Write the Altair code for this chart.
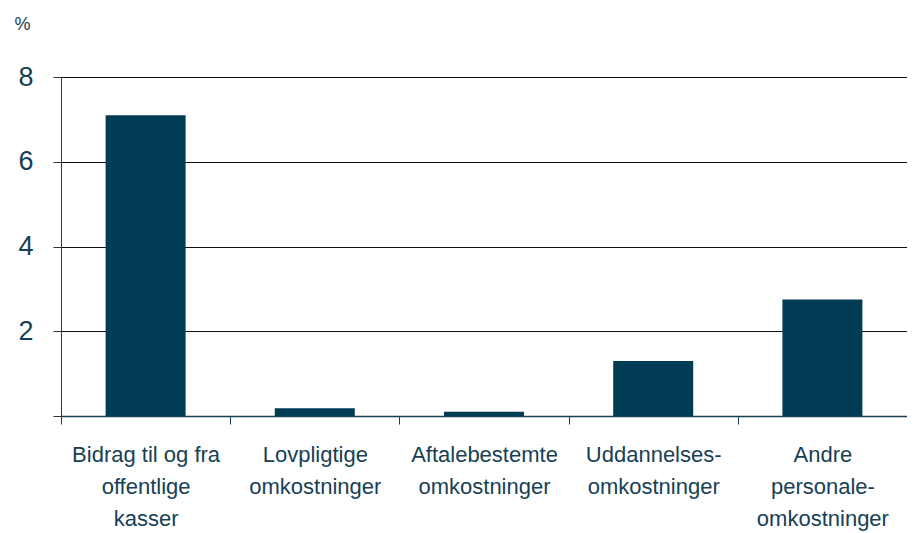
import altair as alt
import pandas as pd

categories = [
    "Bidrag til og fra|offentlige|kasser",
    "Lovpligtige|omkostninger",
    "Aftalebestemte|omkostninger",
    "Uddannelses-|omkostninger",
    "Andre|personale-|omkostninger",
]
values = [7.1, 0.18, 0.1, 1.3, 2.75]

df = pd.DataFrame({"cat": categories, "val": values})

TEXT = "#173f55"
BAR = "#003d55"

chart = alt.Chart(df).mark_bar(color=BAR, size=80).encode(
    x=alt.X(
        "cat:N",
        sort=None,
        scale=alt.Scale(paddingInner=0, paddingOuter=0),
        axis=alt.Axis(
            title=None,
            labelAngle=0,
            labelExpr="split(datum.label, '|')",
            labelFont="Liberation Sans",
            labelFontSize=22,
            labelColor=TEXT,
            labelLineHeight=32,
            labelPadding=20,
            labelBaseline="top",
            tickBand="extent",
            tickSize=8,
            tickColor=TEXT,
            domainColor=TEXT,
            domainWidth=1.5,
            grid=False,
        ),
    ),
    y=alt.Y(
        "val:Q",
        scale=alt.Scale(domain=[0, 8], nice=False),
        axis=alt.Axis(
            values=[0, 2, 4, 6, 8],
            labelExpr="datum.value == 0 ? '' : datum.label",
            title="%",
            titleAngle=0,
            titleX=-39,
            titleY=-53,
            titleAlign="center",
            titleBaseline="middle",
            titleFont="Liberation Sans",
            titleFontSize=18,
            titleFontWeight="normal",
            titleColor=TEXT,
            labelFont="Liberation Sans",
            labelFontSize=27,
            labelColor=TEXT,
            labelPadding=20,
            tickSize=8,
            tickColor="#333333",
            domainColor=TEXT,
            grid=True,
            gridColor="#111111",
            gridWidth=1,
        ),
    ),
).properties(
    width=846,
    height=339,
    autosize=alt.AutoSizeParams(type="none"),
    padding={"left": 53, "top": 69, "right": 0, "bottom": 117},
).configure_view(stroke=None)

chart.save("out.html", embed_options={"renderer": "svg", "actions": False})
